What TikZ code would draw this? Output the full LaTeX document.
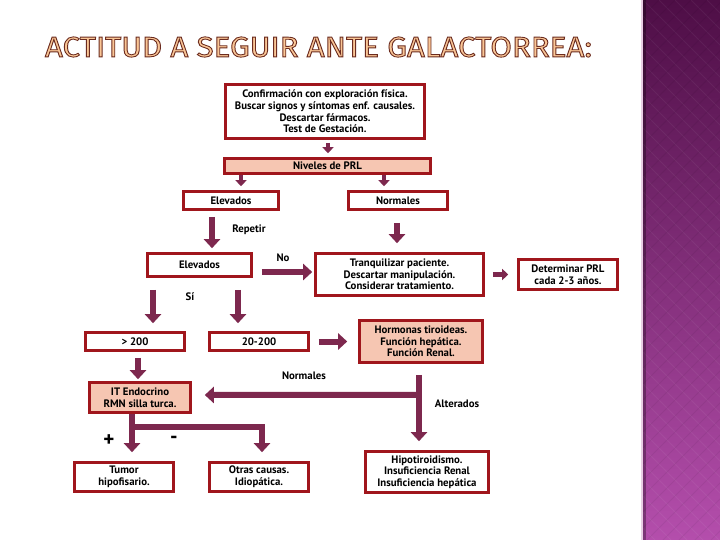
\documentclass[tikz,border=0pt]{standalone}
\usepackage{fontspec}
\setmainfont{PT Sans}
\newfontfamily\titlefont{Fira Sans}
\usetikzlibrary{arrows.meta,calc}
\definecolor{boxred}{RGB}{160,22,28}
\definecolor{arrcol}{RGB}{125,40,78}
\definecolor{salmon}{RGB}{246,198,178}
\definecolor{peach}{RGB}{250,198,150}
\definecolor{paneltop}{RGB}{78,14,70}
\definecolor{panelbot}{RGB}{180,78,172}
\definecolor{paneledge}{RGB}{232,205,228}
\tikzset{
  box/.style={draw=boxred, line width=2.6pt, fill=white, align=center,
    font=\bfseries\fontsize{10.8}{11.7}\selectfont, inner sep=1pt},
  sbox/.style={box, fill=salmon},
  arr/.style={draw=arrcol, line width=6pt, line join=miter,
    -{Triangle[width=16pt,length=9pt]}},
  sarr/.style={draw=arrcol, line width=4.5pt, -{Triangle[width=11pt,length=6pt]}},
  lbl/.style={font=\bfseries\fontsize{10.8}{11}\selectfont, inner sep=0pt},
  sign/.style={font=\bfseries\fontsize{21}{21}\selectfont, inner sep=0pt}
}
\newcommand{\outlinetext}[1]{\textcolor{peach}{\special{pdf:literal direct 2 Tr 0.3 w 0.42 0.17 0.12 RG}#1\special{pdf:literal direct 0 Tr}}}
\begin{document}
\begin{tikzpicture}[x=1pt,y=-1pt]
\useasboundingbox (0,0) rectangle (720,540);
\fill[white] (0,0) rectangle (720,540);
% right panel
\fill[top color=paneltop, bottom color=panelbot] (643,0) rectangle (720,540);
\begin{scope}
\clip (643,0) rectangle (720,540);
\foreach \k in {-40,...,40} {
  \draw[white, opacity=0.05, line width=0.8pt] (643+16*\k,0) -- ++(540,540);
  \draw[black, opacity=0.05, line width=0.8pt] (643+16*\k,0) -- ++(-540,540);
}
\end{scope}
\fill[black, opacity=0.3] (643,0) rectangle (646,540);
\fill[paneledge] (641,0) rectangle (643,540);

% title
\node[inner sep=0pt] (title) at (318.5,47)
  {\resizebox{547pt}{20pt}{\titlefont\outlinetext{ACTITUD A SEGUIR ANTE GALACTORREA:}}};

% boxes
\node[box, minimum width=199pt, minimum height=54pt] (top) at (325,111.5)
  {Confirmación con exploración física.\\Buscar signos y síntomas enf. causales.\\Descartar fármacos.\\Test de Gestación.};
\node[sbox, minimum width=206pt, minimum height=15pt, inner sep=0pt] (niveles) at (327.5,166) {Niveles de PRL};
\node[box, minimum width=95pt, minimum height=18pt] (elev1) at (231,200.5) {Elevados};
\node[box, minimum width=99pt, minimum height=18pt] (norm1) at (398,200.5) {Normales};
\node[box, minimum width=104pt, minimum height=23pt] (elev2) at (199.5,265) {Elevados};
\node[box, minimum width=168pt, minimum height=42pt] (tranq) at (399.5,274.5)
  {Tranquilizar paciente.\\Descartar manipulación.\\Considerar tratamiento.};
\node[box, minimum width=99pt, minimum height=30pt] (determ) at (568,274.5)
  {Determinar PRL\\cada 2-3 años.};
\node[box, minimum width=99pt, minimum height=18pt] (gt200) at (135,341.5) {\textgreater{} 200};
\node[box, minimum width=99pt, minimum height=18pt] (r20) at (259,341.5) {20-200};
\node[sbox, minimum width=123pt, minimum height=42pt] (horm) at (421,341.5)
  {Hormonas tiroideas.\\Función hepática.\\Función Renal.};
\node[sbox, minimum width=101pt, minimum height=30pt] (itendo) at (140,397.5)
  {IT Endocrino\\RMN silla turca.};
\node[box, minimum width=99pt, minimum height=29pt] (tumor) at (124,477)
  {Tumor\\hipofisario.};
\node[box, minimum width=99pt, minimum height=29pt] (otras) at (259,477)
  {Otras causas.\\Idiopática.};
\node[box, minimum width=123pt, minimum height=41pt] (hipo) at (427,472)
  {Hipotiroidismo.\\Insuficiencia Renal\\Insuficiencia hepática};

% labels
\node[lbl] (lrep) at (249,230) {Repetir};
\node[lbl] (lno) at (283,258) {No};
\node[lbl] (lsi) at (190,297) {Sí};
\node[lbl] (lnorm) at (304,376) {Normales};
\node[lbl] (lalt) at (457,404) {Alterados};
\node[sign] (lplus) at (109,441) {+};
\node[sign] (lminus) at (174,440) {-};

% connectors
\draw[sarr] ($(top.south)+(3,3)$) -- ($(niveles.north)+(0.5,-4)$);
\draw[sarr] ($(niveles.south)+(-86.5,0)$) -- ($(elev1.north)+(10,-4)$);
\draw[sarr] ($(niveles.south)+(56.5,0)$) -- ($(norm1.north)+(-14,-4)$);
\draw[arr] ($(elev1.south)+(-19,6)$) -- ($(elev2.north)+(12.5,-4)$);
\draw[arr] ($(norm1.south)+(-1,12)$) -- ($(tranq.north)+(-2.5,-9)$);
\draw[arr] ($(elev2.east)+(9,7)$) -- ($(tranq.west)+(-2,-2.5)$);
\draw[arr] ($(elev2.south)+(-46.5,12)$) -- ($(gt200.north)+(18,-8)$);
\draw[arr] ($(elev2.south)+(38.5,12)$) -- ($(r20.north)+(-21,-8)$);
\draw[arr] ($(r20.east)+(9,0)$) -- ($(horm.west)+(-11,0)$);
\draw[arr] ($(gt200.south)+(3,6)$) -- ($(itendo.north)+(-2,-2)$);
\coordinate (junc) at ($(horm.south)+(-2,31)$);
\draw[arr] (junc) -- ($(itendo.east)+(13,-2.5)$);
\draw[arr] ($(horm.south)+(-2,11)$) -- ($(hipo.north)+(-8,-9)$);
\draw[arr] ($(itendo.south)+(-8,0)$) -- ($(tumor.north)+(8,-9)$);
\draw[arr] ($(itendo.south)+(-8,13)$) -| ($(otras.north)+(3,-9)$);
\draw[sarr] ($(tranq.east)+(8,0)$) -- ($(determ.west)+(-9,0)$);
\end{tikzpicture}
\end{document}
